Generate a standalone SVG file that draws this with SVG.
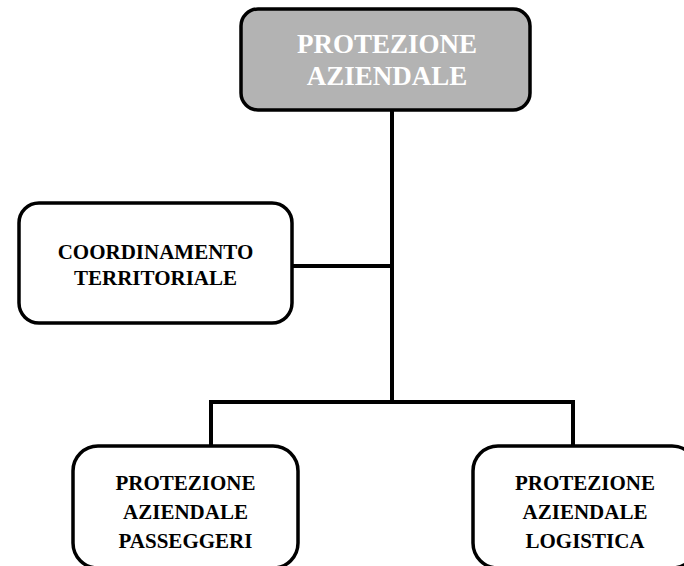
<svg xmlns="http://www.w3.org/2000/svg" width="684" height="566" viewBox="0 0 684 566">
<style>
.box{fill:#ffffff;stroke:#000000;stroke-width:3.5}
.top{fill:#b3b3b3;stroke:#000000;stroke-width:3.5}
.t{font-family:"Liberation Serif","Times New Roman",serif;font-weight:bold;text-anchor:middle;fill:#000000;font-size:21px}
.tw{font-family:"Liberation Serif","Times New Roman",serif;font-weight:bold;text-anchor:middle;fill:#ffffff;font-size:27px}
.c{fill:none;stroke:#000000;stroke-width:4}
</style>
<rect width="684" height="566" fill="#ffffff"/>
<g id="connectors">
<path class="c" d="M392 110 V402"/>
<path class="c" d="M292 266 H392"/>
<path class="c" d="M211 446 V402 H573 V446"/>
</g>
<g id="protezione-aziendale">
<rect class="top" x="241" y="9" width="289" height="101" rx="17"/>
<text class="tw" x="387" y="53">PROTEZIONE</text>
<text class="tw" x="387" y="85">AZIENDALE</text>
</g>
<g id="coordinamento-territoriale">
<rect class="box" x="19" y="203" width="273" height="120" rx="20"/>
<text class="t" x="155.5" y="259">COORDINAMENTO</text>
<text class="t" x="155.5" y="285">TERRITORIALE</text>
</g>
<g id="protezione-passeggeri">
<rect class="box" x="73" y="446" width="225" height="122" rx="25"/>
<text class="t" x="185.5" y="490">PROTEZIONE</text>
<text class="t" x="185.5" y="519">AZIENDALE</text>
<text class="t" x="185.5" y="548">PASSEGGERI</text>
</g>
<g id="protezione-logistica">
<rect class="box" x="473" y="446" width="224" height="122" rx="25"/>
<text class="t" x="585" y="490">PROTEZIONE</text>
<text class="t" x="585" y="519">AZIENDALE</text>
<text class="t" x="585" y="548">LOGISTICA</text>
</g>
</svg>
